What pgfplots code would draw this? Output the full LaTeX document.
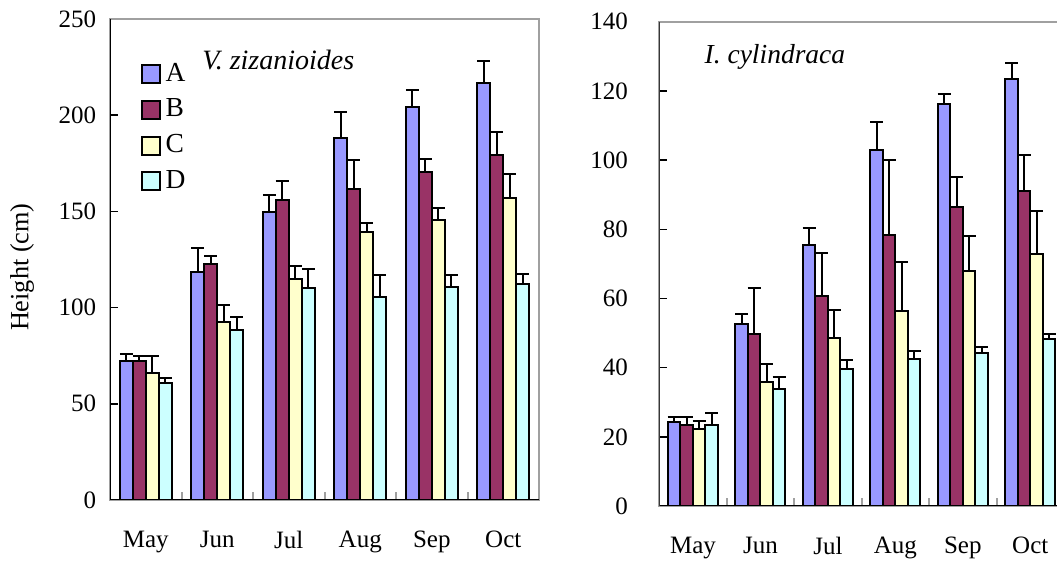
\documentclass[border=0pt]{standalone}
\usepackage{pgfplots}
\pgfplotsset{compat=1.18}
\usepackage{fontspec}
\setmainfont{Liberation Serif}
\definecolor{cA}{HTML}{9999FF}
\definecolor{cB}{HTML}{993366}
\definecolor{cC}{HTML}{FFFFCC}
\definecolor{cD}{HTML}{CCFFFF}
\definecolor{boxgray}{HTML}{A0A0A0}
\pgfplotsset{
  panel/.style={
    scale only axis,
    anchor=south west,
    ybar=0pt,
    xmin=-0.5, xmax=5.5,
    ymin=0,
    xtick={0,...,5},
    xticklabels={May,Jun,Jul,Aug,Sep,Oct},
    minor xtick={0.5,1.5,2.5,3.5,4.5},
    every major x tick/.append style={draw=none},
    every minor x tick/.append style={boxgray, line width=0.8pt},
    minor tick length=3.2pt,
    major tick length=3.2pt,
    tick align=inside,
    xtick pos=bottom, ytick pos=left,
    ytick style={black, line width=0.6pt},
    axis line style={boxgray, line width=0.9pt},
    /pgf/number format/assume math mode=true,
    tick label style={font=\fontsize{10}{12}\selectfont},
    xticklabel style={yshift=-9pt},
    every axis plot/.append style={draw=black, line width=0.8pt,
      error bars/y dir=plus, error bars/y explicit,
      error bars/error bar style={black, line width=0.8pt},
      error bars/error mark options={rotate=90, black, line width=0.8pt, mark size=2.6pt}},
    legend image code/.code={\draw[#1, line width=0.8pt] (0pt,-3.6pt) rectangle (7.2pt,3.6pt);},
  },
}
\begin{document}
\begin{tikzpicture}
\useasboundingbox (0,0) rectangle (422.8pt,224.4pt);
\clip (0,0) rectangle (422.8pt,224.4pt);
\begin{axis}[panel,
  at={(44pt,24.4pt)}, width=171.6pt, height=192.4pt,
  ymax=250, ytick={0,50,100,150,200,250},
  bar width=5.2pt,
  yticklabel style={xshift=-2pt},
  ylabel={Height (cm)},
  ylabel style={at={(axis description cs:-0.205,0.484)}, anchor=center, font=\fontsize{10.5}{12}\selectfont},
  legend style={at={(axis description cs:0.07,0.92)}, anchor=north west, draw=none, fill=none,
    font=\fontsize{11}{13}\selectfont, row sep=1.6pt, inner sep=0pt,
    /tikz/every even column/.append style={column sep=2pt}},
  legend cell align=left,
]
\addplot[fill=cA] coordinates {(0,72.4) +- (0,3.3) (1,118.6) +- (0,12.2) (2,149.8) +- (0,8.9) (3,188.3) +- (0,13.3) (4,204.4) +- (0,8.7) (5,216.9) +- (0,11.2)};
\addplot[fill=cB] coordinates {(0,72.4) +- (0,2.6) (1,122.6) +- (0,4.4) (2,155.7) +- (0,10.1) (3,161.8) +- (0,14.9) (4,170.4) +- (0,6.8) (5,179.1) +- (0,12.0)};
\addplot[fill=cC] coordinates {(0,65.8) +- (0,9.2) (1,92.3) +- (0,9.0) (2,114.7) +- (0,6.9) (3,139.4) +- (0,4.5) (4,145.7) +- (0,6.0) (5,157.1) +- (0,12.5)};
\addplot[fill=cD] coordinates {(0,60.8) +- (0,2.8) (1,88.2) +- (0,7.1) (2,110.0) +- (0,9.9) (3,105.7) +- (0,11.2) (4,110.9) +- (0,6.0) (5,112.2) +- (0,5.2)};
\legend{A,B,C,D}
\node[anchor=west, inner sep=0pt, font=\itshape\fontsize{11.2}{13}\selectfont] at (axis description cs:0.214,0.915) {V. zizanioides};
\draw[black, line width=0.9pt] (axis description cs:0,1) -- (axis description cs:0,0) -- (axis description cs:1,0);
\end{axis}
\begin{axis}[panel,
  at={(263.7pt,22pt)}, width=161.9pt, height=193.7pt,
  ymax=140, ytick={0,20,...,140},
  bar width=5pt,
  yticklabel style={xshift=-9pt},
]
\addplot[fill=cA] coordinates {(0,24.4) +- (0,1.4) (1,52.6) +- (0,2.9) (2,75.4) +- (0,4.9) (3,102.9) +- (0,8.0) (4,116.3) +- (0,2.8) (5,123.5) +- (0,4.5)};
\addplot[fill=cB] coordinates {(0,23.3) +- (0,2.5) (1,49.6) +- (0,13.4) (2,60.6) +- (0,12.6) (3,78.3) +- (0,21.7) (4,86.3) +- (0,8.8) (5,91.1) +- (0,10.3)};
\addplot[fill=cC] coordinates {(0,22.3) +- (0,2.2) (1,35.8) +- (0,5.3) (2,48.6) +- (0,8.0) (3,56.4) +- (0,14.1) (4,68.0) +- (0,10.0) (5,72.8) +- (0,12.4)};
\addplot[fill=cD] coordinates {(0,23.4) +- (0,3.5) (1,33.8) +- (0,3.5) (2,39.5) +- (0,2.7) (3,42.5) +- (0,2.4) (4,44.3) +- (0,1.8) (5,48.3) +- (0,1.4)};
\node[anchor=west, inner sep=0pt, font=\itshape\fontsize{11}{13}\selectfont] at (axis description cs:0.111,0.928) {I. cylindraca};
\draw[black, line width=0.9pt] (axis description cs:0,1) -- (axis description cs:0,0) -- (axis description cs:1,0);
\end{axis}
\end{tikzpicture}
\end{document}
